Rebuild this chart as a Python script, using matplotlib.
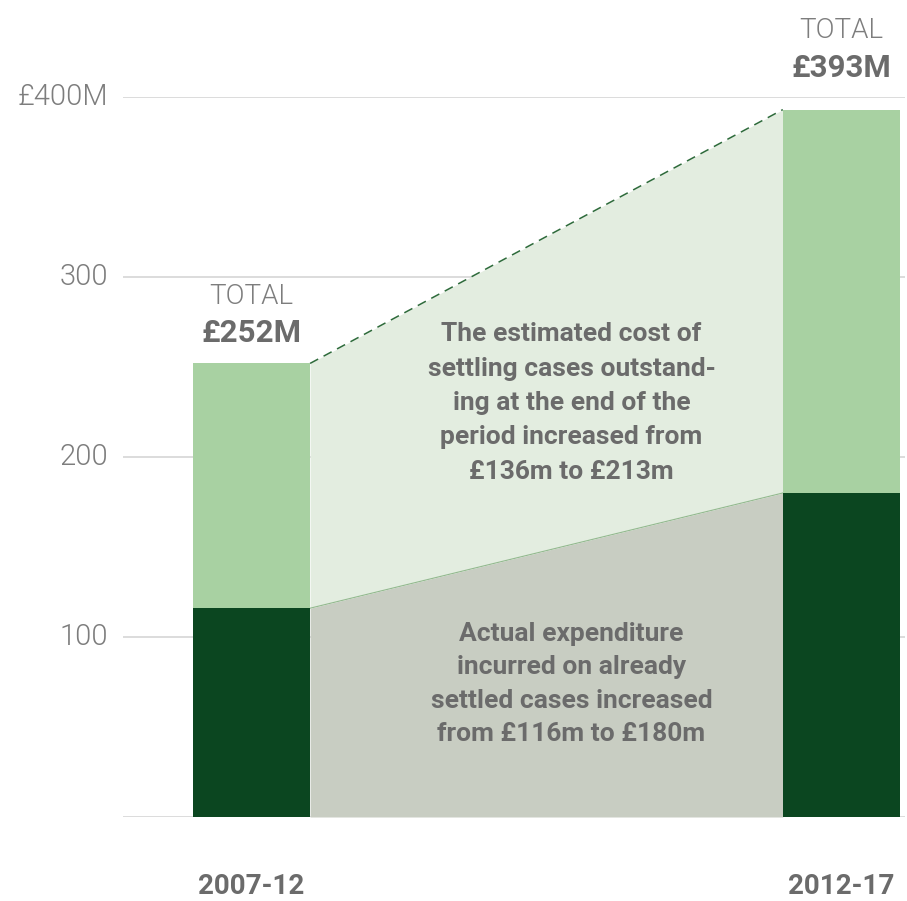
import matplotlib
matplotlib.use("Agg")
import matplotlib.pyplot as plt

periods = ["2007-12", "2012-17"]
settled = [116, 180]          # actual expenditure on settled cases (£m)
outstanding = [136, 213]      # estimated cost of outstanding cases (£m)
totals = [252, 393]
yticks = [100, 200, 300, 400]
ytick_labels = ["100", "200", "300", "£400M"]
note_top = "The estimated cost of\nsettling cases outstand-\ning at the end of the\nperiod increased from\n£136m to £213m"
note_bottom = "Actual expenditure\nincurred on already\nsettled cases increased\nfrom £116m to £180m"

DARK = "#0b4620"
LIGHT = "#a8d1a2"
PALE = "#e3ede0"
GREYFILL = "#c8cdc2"
TXT = "#6b6b6b"
LIGHTTXT = "#7d7d7d"

W, H = 907, 901
fig = plt.figure(figsize=(W / 100, H / 100), dpi=100)
ax = fig.add_axes([123 / W, (H - 817) / H, (905 - 123) / W, (817 - 97) / H])

x = [0, 1]
w = 0.1985
ax.bar(x, settled, width=w, color=DARK, zorder=3, linewidth=0)
ax.bar(x, outstanding, width=w, bottom=settled, color=LIGHT, zorder=3, linewidth=0)

xs = [x[0] + w / 2, x[1] - w / 2]
ax.fill_between(xs, [0, 0], settled, color=GREYFILL, zorder=2, linewidth=0)
ax.fill_between(xs, settled, totals, color=PALE, zorder=2, linewidth=0)
ax.plot(xs, settled, color="#93b98f", lw=0.8, zorder=2.5)
ax.plot(xs, totals, color="#2d6a3a", lw=1.1, ls=(0, (6, 4)), zorder=2.5)

ax.set_xlim(-0.218, 1.108)
ax.set_ylim(0, 400)
for t in [0] + yticks:
    ax.axhline(t, color="#d9d9d9", lw=1.3, zorder=1)

for s in ax.spines.values():
    s.set_visible(False)
ax.set_xticks([])
ax.set_yticks([])
light = dict(family=["Roboto", "DejaVu Sans"], fontweight=300)
for t, lab in zip(yticks, ytick_labels):
    ax.text(-0.218 - 15 / 782 * 1.326, t, lab, ha="right", va="center",
            fontsize=21, color=LIGHTTXT, **light)

bold = dict(family=["Roboto", "DejaVu Sans"], fontweight="bold")
label_offsets = [(37, 17), (44, 23)]
for xi, tot in zip(x, totals):
    o1, o2 = label_offsets[xi]
    ax.text(xi, tot + o1, "TOTAL", ha="center", va="center", fontsize=20,
            color=LIGHTTXT, clip_on=False, **light)
    ax.text(xi, tot + o2, f"£{tot}M", ha="center", va="center", fontsize=22.5,
            color=TXT, clip_on=False, **bold)
    ax.text(xi, -38.5, periods[xi], ha="center", va="center", fontsize=20,
            color=TXT, clip_on=False, **bold)

ax.text(0.5425, 230, note_top, ha="center", va="center", fontsize=19,
        color=TXT, linespacing=1.55, **bold)
ax.text(0.5425, 74, note_bottom, ha="center", va="center", fontsize=19,
        color=TXT, linespacing=1.5, **bold)

fig.savefig("out.png", dpi=100)
